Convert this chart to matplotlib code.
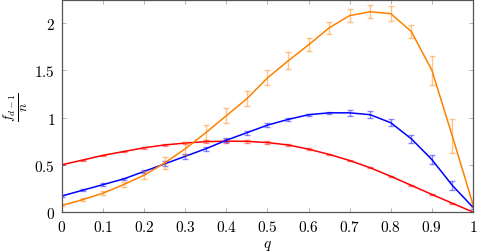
import matplotlib
matplotlib.use('Agg')
import matplotlib.pyplot as plt
from matplotlib.ticker import FuncFormatter

plt.rcParams['mathtext.fontset'] = 'cm'
plt.rcParams['font.family'] = 'serif'
plt.rcParams['font.serif'] = ['cmr10', 'DejaVu Serif']
plt.rcParams['axes.formatter.use_mathtext'] = True

q = [0.0, 0.05, 0.1, 0.15, 0.2, 0.25, 0.3, 0.35, 0.4, 0.45, 0.5,
     0.55, 0.6, 0.65, 0.7, 0.75, 0.8, 0.85, 0.9, 0.95, 1.0]

red = [0.50, 0.55, 0.60, 0.64, 0.68, 0.71, 0.73, 0.745, 0.75, 0.748, 0.735,
       0.71, 0.665, 0.61, 0.545, 0.468, 0.378, 0.282, 0.186, 0.092, 0.0]
red_err = [0.004, 0.005, 0.006, 0.007, 0.008, 0.01, 0.012, 0.018, 0.018, 0.018, 0.016,
           0.014, 0.01, 0.008, 0.007, 0.006, 0.005, 0.004, 0.004, 0.003, 0.002]

blue = [0.17, 0.23, 0.29, 0.35, 0.43, 0.51, 0.59, 0.67, 0.76, 0.84, 0.92,
        0.98, 1.03, 1.05, 1.05, 1.03, 0.945, 0.775, 0.555, 0.28, 0.05]
blue_err = [0.008, 0.01, 0.012, 0.015, 0.02, 0.025, 0.025, 0.02, 0.02, 0.02, 0.02,
            0.015, 0.012, 0.012, 0.03, 0.035, 0.035, 0.045, 0.05, 0.05, 0.02]

orange = [0.07, 0.13, 0.20, 0.29, 0.39, 0.52, 0.67, 0.84, 1.02, 1.20, 1.42,
          1.60, 1.77, 1.95, 2.08, 2.12, 2.10, 1.91, 1.50, 0.80, 0.08]
orange_err = [0.01, 0.015, 0.02, 0.03, 0.04, 0.06, 0.07, 0.08, 0.08, 0.08, 0.08,
              0.09, 0.07, 0.06, 0.07, 0.07, 0.08, 0.07, 0.15, 0.18, 0.03]

series = [
    (red, red_err, '#ff0000'),
    (blue, blue_err, '#0000ff'),
    (orange, orange_err, '#ff8000'),
]

fig = plt.figure(figsize=(4.81, 2.53), dpi=100)
ax = fig.add_axes([62 / 481, 40 / 253, 411 / 481, 212.5 / 253])

for vals, errs, col in series:
    ax.errorbar(q, vals, yerr=errs, fmt='none', ecolor=col, alpha=0.45,
                elinewidth=1.0, capsize=2.5, capthick=1.0)
    ax.plot(q, vals, color=col, lw=1.1)

ax.set_xlim(0, 1)
ax.set_ylim(0, 2.25)
ax.set_xticks([0, 0.1, 0.2, 0.3, 0.4, 0.5, 0.6, 0.7, 0.8, 0.9, 1.0])
ax.set_yticks([0, 0.5, 1, 1.5, 2])
fmt = FuncFormatter(lambda v, p: '$%g$' % round(v, 2))
ax.xaxis.set_major_formatter(fmt)
ax.yaxis.set_major_formatter(fmt)
ax.tick_params(direction='in', top=True, right=True, length=3, width=0.5,
               color='#999999', labelsize=11, pad=5)
for s in ax.spines.values():
    s.set_color('#555555')
    s.set_linewidth(0.9)

ax.set_xlabel('$q$', fontsize=11, labelpad=3)
ax.set_ylabel(r'$\frac{f_{d-1}}{n}$', fontsize=14)
ax.yaxis.set_label_coords(-0.078, 0.5)

fig.savefig('out.png', dpi=100)
